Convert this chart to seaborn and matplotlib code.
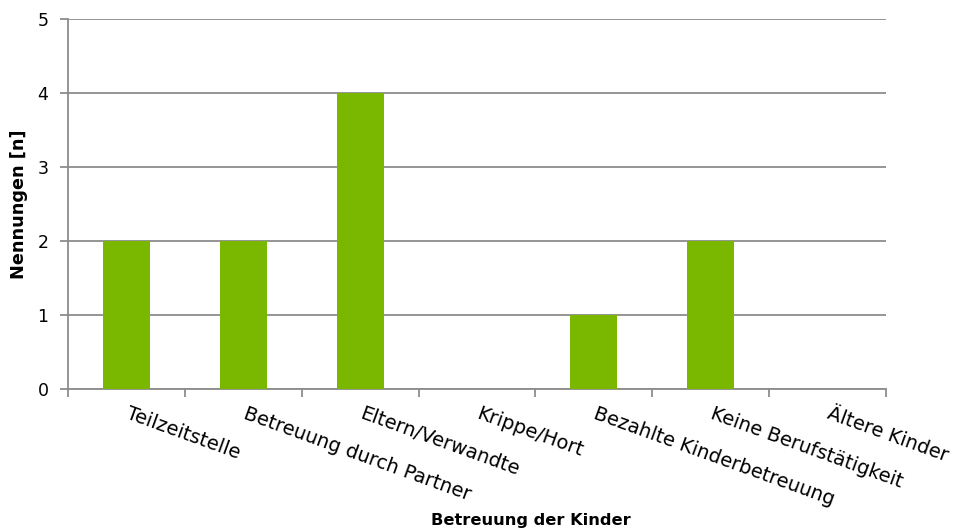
import matplotlib
matplotlib.use("Agg")
import matplotlib.pyplot as plt
import matplotlib.transforms as mtransforms
import numpy as np
import pandas as pd
import seaborn as sns

categories = ["Teilzeitstelle", "Betreuung durch Partner", "Eltern/Verwandte",
              "Krippe/Hort", "Bezahlte Kinderbetreuung", "Keine Berufstätigkeit",
              "Ältere Kinder"]
values = [2, 2, 4, 0, 1, 2, 0]

sns.set_style("white")
plt.rcParams['font.family'] = ['DejaVu Sans']

grey = "#8c8c8c"
green = "#7ab800"

df = pd.DataFrame({"cat": categories, "n": values})

fig = plt.figure(figsize=(9.55, 5.31), dpi=100)
ax = fig.add_axes([68 / 955, 1 - 389 / 531, (886 - 68) / 955, (389 - 19) / 531])

sns.barplot(data=df, x="cat", y="n", color=green, width=0.4, saturation=1,
            linewidth=0, ax=ax, zorder=3)

ax.set_xlim(-0.5, len(categories) - 0.5)
ax.set_ylim(0, 5)
ax.set_yticks(range(6))
ax.yaxis.grid(True, color=grey, linewidth=1.3, zorder=0)
ax.xaxis.grid(False)

for s in ["top", "right"]:
    ax.spines[s].set_visible(False)
for s in ["left", "bottom"]:
    ax.spines[s].set_color(grey)
    ax.spines[s].set_linewidth(1.3)

# tick marks between categories, labels at category centres
ax.set_xticks(np.arange(-0.5, len(categories)), labels=[])
ax.set_xticks(range(len(categories)), labels=categories, minor=True)
ax.tick_params(axis="x", which="major", direction="out", length=6, width=1.3, color=grey, bottom=True)
ax.tick_params(axis="x", which="minor", length=0, pad=11, labelsize=14, labelcolor="black")
shift = mtransforms.ScaledTranslation(4 / 100, 0, fig.dpi_scale_trans)
for lab in ax.get_xticklabels(minor=True):
    lab.set_rotation(-20)
    lab.set_ha("left")
    lab.set_va("top")
    lab.set_rotation_mode("anchor")
    lab.set_transform(lab.get_transform() + shift)
ax.tick_params(axis="y", direction="out", length=6, width=1.3, color=grey, left=True,
               labelsize=12.5, labelcolor="black", pad=8)

ax.set_xlabel("")
ax.set_ylabel("Nennungen [n]", fontsize=12.7, fontweight="bold", color="black", labelpad=7)
fig.text(531 / 955, 1 - 520 / 531, "Betreuung der Kinder", ha="center", va="center",
         fontsize=11.7, fontweight="bold", color="black")

fig.savefig("out.png", dpi=100)
